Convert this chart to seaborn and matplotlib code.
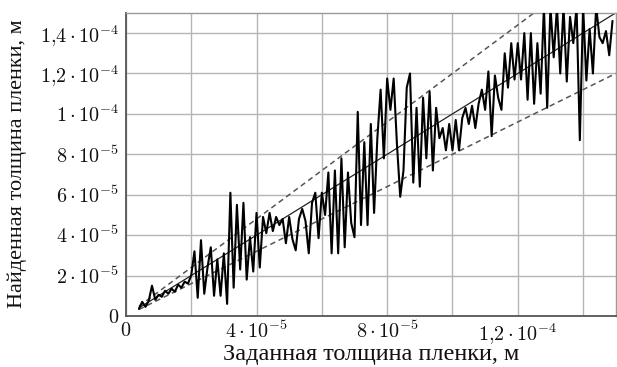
import numpy as np
import pandas as pd
import matplotlib
matplotlib.use("Agg")
import matplotlib.pyplot as plt
import seaborn as sns

# ---- data (units: 1e-5 m) ----
x_start, x_end, n_points = 0.4, 14.9, 146
y_found = [
    0.35, 0.7, 0.45, 0.75, 1.5, 0.8, 1.05, 0.95, 1.25, 1.1, 1.35, 1.2, 1.55, 1.4, 1.7, 1.6,
    2.0, 3.2, 0.9, 3.75, 1.1, 2.4, 3.4, 1.0, 2.8, 1.0,
    3.1, 0.6, 6.1, 1.4, 5.5, 2.3, 5.6, 1.8, 3.9, 2.2,
    5.1, 2.4, 4.9, 4.1, 5.1, 4.2, 4.9, 4.5, 4.8, 3.6,
    4.9, 3.8, 3.25, 4.8, 5.3, 4.7, 3.1, 5.6, 6.1, 3.85,
    6.1, 5.0, 7.1, 3.1, 7.2, 3.1, 7.8, 3.4, 7.1, 4.6,
    3.9, 10.1, 4.5, 8.6, 4.5, 9.5, 5.1, 8.8, 11.2, 7.8,
    11.75, 10.2, 11.75, 8.5, 5.9, 7.2, 11.3, 12.0, 6.6, 10.3,
    6.4, 10.8, 7.8, 11.1, 7.2, 10.3, 8.8, 9.3, 8.2, 9.5,
    8.2, 9.7, 8.2, 9.8, 10.3, 9.5, 10.4, 9.3, 10.5, 11.2,
    10.2, 12.1, 8.9, 11.9, 10.8, 10.2, 13.0, 11.3, 13.5, 11.7,
    13.5, 11.7, 14.0, 10.7, 14.0, 10.5, 13.5, 11.0, 15.3, 10.3,
    15.3, 12.8, 15.3, 12.0, 15.3, 11.6, 14.8, 13.5, 15.3, 8.7,
    15.3, 11.65, 14.2, 12.0, 15.3, 13.8, 13.5, 14.1, 12.9, 14.6,
]
scale = 1e-5
ref_slopes = [0.8, 1.0, 1.2]
ref_styles = ["dashed", "solid", "dashed"]

x_ticks = [0, 2e-5, 4e-5, 6e-5, 8e-5, 1e-4, 1.2e-4, 1.4e-4]
x_ticklabels = [r"$0$", "", r"$4\cdot10^{-5}$", "", r"$8\cdot10^{-5}$", "",
                r"$1{,}2\cdot10^{-4}$", ""]
y_ticks = [0, 2e-5, 4e-5, 6e-5, 8e-5, 1e-4, 1.2e-4, 1.4e-4]
y_ticklabels = [r"$0$", r"$2\cdot10^{-5}$", r"$4\cdot10^{-5}$", r"$6\cdot10^{-5}$",
                r"$8\cdot10^{-5}$", r"$1\cdot10^{-4}$", r"$1{,}2\cdot10^{-4}$",
                r"$1{,}4\cdot10^{-4}$"]
x_label = "Заданная толщина пленки, м"
y_label = "Найденная толщина пленки, м"

# ---- style ----
sns.set_style("whitegrid")
plt.rcParams["font.family"] = ["Liberation Serif", "DejaVu Serif"]
plt.rcParams["mathtext.fontset"] = "cm"

x_vals = np.linspace(x_start, x_end, n_points) * scale
df = pd.DataFrame({"x": x_vals, "y": np.array(y_found) * scale})

fig = plt.figure(figsize=(6.17, 3.67), dpi=100)
ax = fig.add_axes([0.204, 0.139, 0.794, 0.826])

ref_x = np.array([x_start * scale, 1.5e-4])
for k, ls in zip(ref_slopes, ref_styles):
    if ls == "solid":
        ax.plot(ref_x, k * ref_x, color="#222222", lw=0.9, zorder=2)
    else:
        ax.plot(ref_x, k * ref_x, color="#555555", lw=1.1, ls=(0, (3.5, 2.5)), zorder=2)

sns.lineplot(data=df, x="x", y="y", color="black", lw=1.5, ax=ax, zorder=3)

ax.set_xlim(0, 1.5e-4)
ax.set_ylim(0, 1.5e-4)
ax.set_xticks(x_ticks)
ax.set_xticklabels(x_ticklabels)
ax.set_yticks(y_ticks)
ax.set_yticklabels(y_ticklabels)
ax.tick_params(axis="both", length=0, labelsize=14.5, colors="#111111")
ax.tick_params(axis="x", pad=4)
ax.tick_params(axis="y", pad=5)
ax.grid(True, color="#b5b5b5", lw=1.0)
ax.set_axisbelow(True)

for side in ["left", "bottom"]:
    ax.spines[side].set_color("#555555")
    ax.spines[side].set_linewidth(1.3)
for side in ["top", "right"]:
    ax.spines[side].set_color("#9a9a9a")
    ax.spines[side].set_linewidth(1.0)

ax.set_xlabel(x_label, fontsize=17.5, color="#111111", va="center")
ax.xaxis.set_label_coords(0.5, -0.127)
ax.set_ylabel(y_label, fontsize=16, color="#111111", va="center")
ax.yaxis.set_label_coords(-0.222, 0.503)

fig.savefig("out.png", dpi=100)
